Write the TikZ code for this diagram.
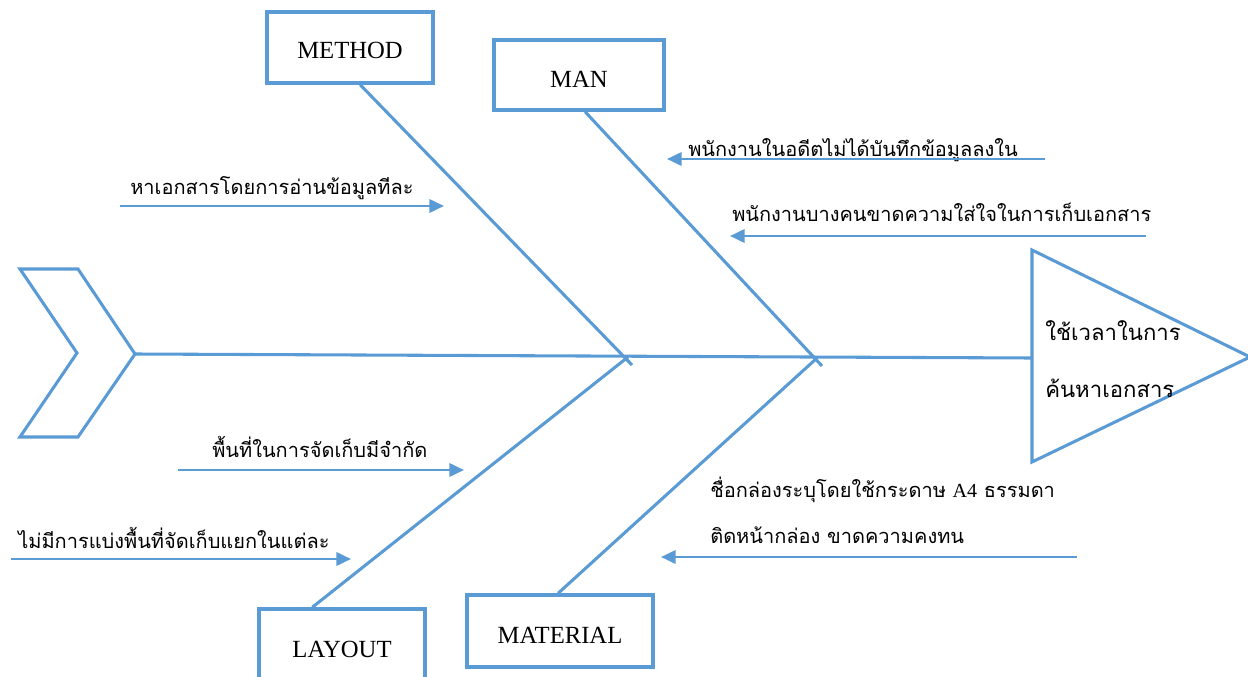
\documentclass[tikz,border=0pt]{standalone}
\usepackage{fontspec}
\setmainfont{Liberation Serif}
\newfontfamily\thaifont[Script=Thai]{Loma}
\usetikzlibrary{arrows.meta,calc}
\definecolor{bl}{RGB}{91,155,213}
\newcommand{\boxtext}[2]{\smash{\raisebox{-#1}{#2}}}
\begin{document}
\begin{tikzpicture}[x=0.75pt,y=-0.75pt,
  bone/.style={draw=bl,line width=2.3pt,line join=miter},
  catbox/.style={draw=bl,line width=2.6pt,fill=white,inner sep=0pt,
    font=\fontsize{18.5}{20}\selectfont},
  cause/.style={draw=bl,line width=2pt,-{Triangle[length=11pt,width=10pt]}},
  lbl/.style={font=\thaifont\fontsize{15}{18}\selectfont,anchor=base west,inner sep=0pt},
  headlbl/.style={font=\thaifont\fontsize{16.6}{20}\selectfont,anchor=base west,inner sep=0pt}
]
\useasboundingbox (0,0) rectangle (1248,677);
% tail chevron
\draw[bone] (20,269) -- (78,269) -- (135,354) -- (78,437) -- (20,437) -- (77,353) -- cycle;
\coordinate (tail) at (135,354);
% head triangle
\draw[bone] (1032,250) -- (1250,357) -- (1032,462) -- cycle;
\coordinate (head) at (1032,358);
\draw[bone] (tail) -- (head);
% spine points
\coordinate (j1) at (632,365);
\coordinate (j2) at (628,357);
\coordinate (j3) at (822,366);
\coordinate (j4) at (817,358);
% category boxes
\node[catbox,minimum width=124.5pt,minimum height=53.25pt] (method) at (350,47.5) {\boxtext{7.9pt}{METHOD}};
\node[catbox,minimum width=127.5pt,minimum height=52.5pt] (man) at (579,75) {\boxtext{9.6pt}{MAN}};
\node[catbox,minimum width=139.5pt,minimum height=54pt] (material) at (560,631) {\boxtext{9pt}{MATERIAL}};
\node[catbox,minimum width=124.5pt,minimum height=64.5pt] (layout) at (342,652) {\boxtext{3.8pt}{LAYOUT}};
% bones
\draw[bone] ($(method.south west)!0.56!(method.south east)$) -- (j1);
\draw[bone] ($(layout.north west)!0.325!(layout.north east)$) -- (j2);
\draw[bone] ($(man.south west)!0.535!(man.south east)$) -- (j3);
\draw[bone] ($(material.north west)!0.49!(material.north east)$) -- (j4);
% head text
\node[headlbl] (h1) at (1045,340) {ใช้เวลาในการ};
\node[headlbl] (h2) at (1045,397) {ค้นหาเอกสาร};
% causes
\node[lbl] (t1) at (130,195) {หาเอกสารโดยการอ่านข้อมูลทีละ};
\coordinate (a1s) at (120,206); \coordinate (a1e) at (444,206);
\draw[cause] (a1s) -- (a1e);
\node[lbl] (t2) at (688,157) {พนักงานในอดีตไม่ได้บันทึกข้อมูลลงใน};
\coordinate (a2s) at (1045,159); \coordinate (a2e) at (667,159);
\draw[cause] (a2s) -- (a2e);
\node[lbl] (t3) at (732,222) {พนักงานบางคนขาดความใส่ใจในการเก็บเอกสาร};
\coordinate (a3s) at (1146,236); \coordinate (a3e) at (730,236);
\draw[cause] (a3s) -- (a3e);
\node[lbl] (t4) at (212,457) {พื้นที่ในการจัดเก็บมีจำกัด};
\coordinate (a4s) at (178,470); \coordinate (a4e) at (464,470);
\draw[cause] (a4s) -- (a4e);
\node[lbl] (t5) at (18,548) {ไม่มีการแบ่งพื้นที่จัดเก็บแยกในแต่ละ};
\coordinate (a5s) at (11,559); \coordinate (a5e) at (351,559);
\draw[cause] (a5s) -- (a5e);
\node[lbl] (t6) at (710,497) {ชื่อกล่องระบุโดยใช้กระดาษ {\rmfamily A4} ธรรมดา};
\node[lbl] (t7) at (710,543) {ติดหน้ากล่อง ขาดความคงทน};
\coordinate (a6s) at (1077,557); \coordinate (a6e) at (661,557);
\draw[cause] (a6s) -- (a6e);
\end{tikzpicture}
\end{document}
